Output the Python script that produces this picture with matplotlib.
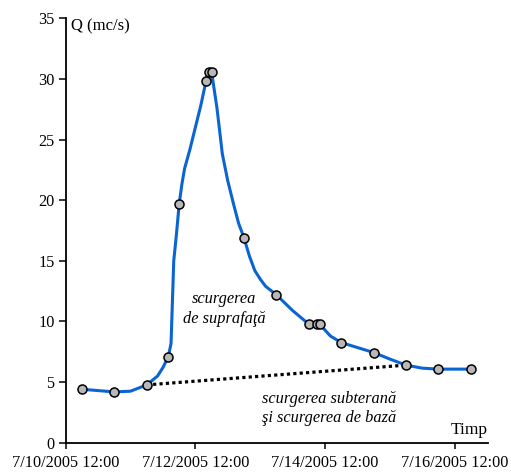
import matplotlib
matplotlib.use("Agg")
import matplotlib.pyplot as plt
import pandas as pd

plt.rcParams['font.family'] = ['Liberation Serif', 'DejaVu Serif']

# measured points (markers)
meas_time = ["2005-07-10 18:00", "2005-07-11 06:00", "2005-07-11 18:00", "2005-07-12 02:00",
             "2005-07-12 06:00", "2005-07-12 16:00", "2005-07-12 17:00", "2005-07-12 18:00",
             "2005-07-13 06:00", "2005-07-13 18:00", "2005-07-14 06:00", "2005-07-14 09:00",
             "2005-07-14 10:00", "2005-07-14 18:00", "2005-07-15 06:00", "2005-07-15 18:00",
             "2005-07-16 06:00", "2005-07-16 18:00"]
meas_q = [4.41, 4.19, 4.77, 7.1, 19.67, 29.87, 30.58, 30.58, 16.9, 12.2,
          9.78, 9.78, 9.78, 8.26, 7.44, 6.4, 6.07, 6.07]

# continuous hydrograph
line_time = ["2005-07-10 18:00", "2005-07-11 00:00", "2005-07-11 06:00", "2005-07-11 12:00",
             "2005-07-11 18:00", "2005-07-11 22:00", "2005-07-12 00:00", "2005-07-12 02:00",
             "2005-07-12 03:00", "2005-07-12 04:00", "2005-07-12 05:00", "2005-07-12 06:00",
             "2005-07-12 07:00", "2005-07-12 08:00", "2005-07-12 10:00", "2005-07-12 12:00",
             "2005-07-12 14:00", "2005-07-12 16:00", "2005-07-12 17:00", "2005-07-12 18:00",
             "2005-07-12 20:00", "2005-07-12 22:00", "2005-07-13 00:00", "2005-07-13 02:00",
             "2005-07-13 04:00", "2005-07-13 06:00", "2005-07-13 08:00", "2005-07-13 10:00",
             "2005-07-13 12:00", "2005-07-13 14:00", "2005-07-13 18:00", "2005-07-14 00:00",
             "2005-07-14 06:00", "2005-07-14 09:00", "2005-07-14 10:00", "2005-07-14 14:00",
             "2005-07-14 18:00", "2005-07-15 06:00", "2005-07-15 12:00", "2005-07-15 18:00",
             "2005-07-16 00:00", "2005-07-16 06:00", "2005-07-16 18:00"]
line_q = [4.41, 4.3, 4.19, 4.25, 4.77, 5.5, 6.2, 7.1, 8.2, 15.0, 17.2, 19.67,
          21.3, 22.6, 24.2, 26.0, 27.8, 29.87, 30.58, 30.58, 27.6, 23.8, 21.6, 19.8,
          18.1, 16.9, 15.4, 14.2, 13.5, 12.9, 12.2, 10.9, 9.78, 9.78, 9.78, 8.8,
          8.26, 7.44, 6.9, 6.4, 6.15, 6.07, 6.07]

# baseflow separation line
base_time = ["2005-07-11 18:00", "2005-07-15 18:00"]
base_q = [4.77, 6.4]

tick_time = ["2005-07-10 12:00", "2005-07-12 12:00", "2005-07-14 12:00", "2005-07-16 12:00"]
tick_labels = ["7/10/2005 12:00", "7/12/2005 12:00", "7/14/2005 12:00", "7/16/2005 12:00"]

fig = plt.figure(figsize=(5.11, 4.73), dpi=100)
ax = fig.add_axes([0.1286, 0.064, 0.8258, 0.8973])

ax.plot(pd.to_datetime(base_time), base_q, color='black', linestyle=(0, (1, 1)), linewidth=2.3)
ax.plot(pd.to_datetime(line_time), line_q, color='#0a64d2', linewidth=2.2,
        solid_joinstyle='round')
ax.plot(pd.to_datetime(meas_time), meas_q, linestyle='none', marker='o', markersize=6.5,
        markerfacecolor='#b8b8b8', markeredgecolor='black', markeredgewidth=1.1)

ax.set_ylim(0, 35)
ax.set_yticks(range(0, 36, 5))
x0 = pd.Timestamp("2005-07-10 12:00")
ax.set_xlim(x0, x0 + pd.Timedelta(hours=6.51 * 24))
ax.set_xticks(pd.to_datetime(tick_time))
ax.set_xticklabels(tick_labels)

for s in ['top', 'right']:
    ax.spines[s].set_visible(False)
for s in ['left', 'bottom']:
    ax.spines[s].set_linewidth(1.3)
ax.tick_params(axis='both', labelsize=11.7, direction='out', width=1.1)
ax.tick_params(axis='y', length=5, pad=3)
ax.tick_params(axis='x', length=4, pad=5)

ax.text(0.012, 1.0, "Q (mc/s)", transform=ax.transAxes, fontsize=12, va='top', ha='left')
ax.text(1.0, 0.012, "Timp", transform=ax.transAxes, fontsize=12.5, va='bottom', ha='right')

ax.text(x0 + pd.Timedelta(hours=2.44 * 24), 11.05, "scurgerea\nde suprafaţă",
        fontsize=11.8, style='italic', ha='center', va='center', linespacing=1.3)
ax.text(x0 + pd.Timedelta(hours=4.07 * 24), 2.83, "scurgerea subterană\nşi scurgerea de bază",
        fontsize=11.8, style='italic', ha='center', va='center', linespacing=1.3)

fig.savefig("out.png", dpi=100)
